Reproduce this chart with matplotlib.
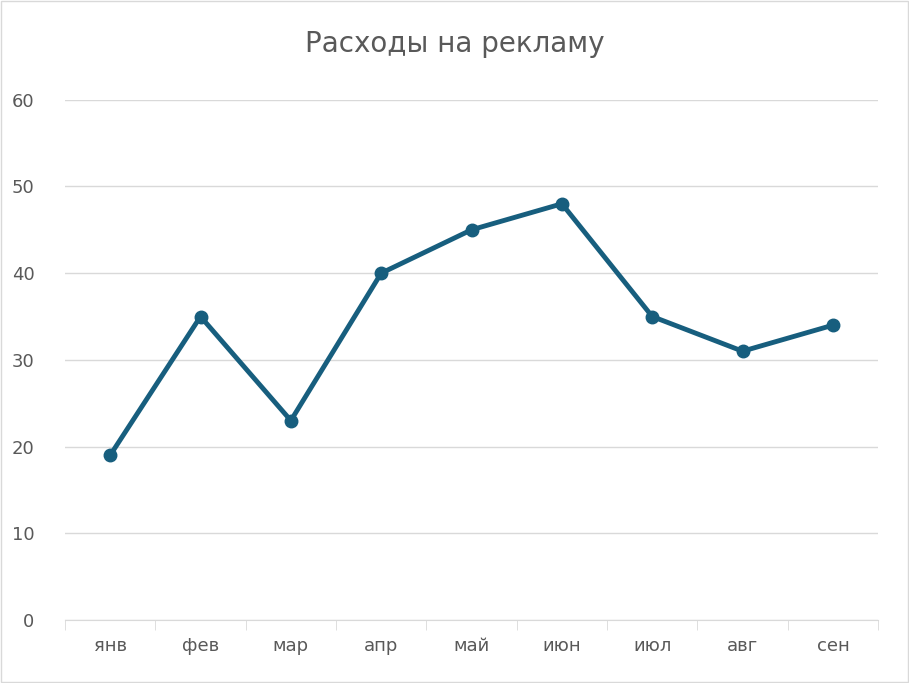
import matplotlib.pyplot as plt
from matplotlib.patches import Rectangle

months = ['янв', 'фев', 'мар', 'апр', 'май', 'июн', 'июл', 'авг', 'сен']
spend = [19, 35, 23, 40, 45, 48, 35, 31, 34]

fig = plt.figure(figsize=(9.09, 6.83), dpi=100)
ax = fig.add_axes([0.0715, 0.0922, 0.8945, 0.7618])

x = list(range(len(months)))
ax.plot(x, spend, color='#175e7e', lw=3.5, marker='o', ms=9, solid_capstyle='round')

ax.set_xlim(-0.5, len(months) - 0.5)
ax.set_ylim(0, 60)
ax.set_yticks(range(0, 61, 10))
ax.yaxis.grid(True, color='#d9d9d9', lw=1)
ax.set_axisbelow(True)
ax.set_xticks(x)
ax.set_xticklabels(months)
ax.set_xticks([i - 0.5 for i in range(len(months) + 1)], minor=True)
ax.tick_params(axis='x', which='major', length=0, pad=12, labelsize=13, colors='#595959')
ax.tick_params(axis='x', which='minor', length=7, color='#d9d9d9', direction='out')
ax.tick_params(axis='y', length=0, pad=22, labelsize=13, colors='#595959')
for s in ['top', 'right', 'left']:
    ax.spines[s].set_visible(False)
ax.spines['bottom'].set_color('#d9d9d9')

fig.text(0.5, 0.935, 'Расходы на рекламу', ha='center', va='center', fontsize=20, color='#595959')
fig.patches.append(Rectangle((0.001, 0.001), 0.998, 0.998, transform=fig.transFigure,
                             fill=False, edgecolor='#d9d9d9', lw=1))

fig.savefig('out.png', dpi=100)
